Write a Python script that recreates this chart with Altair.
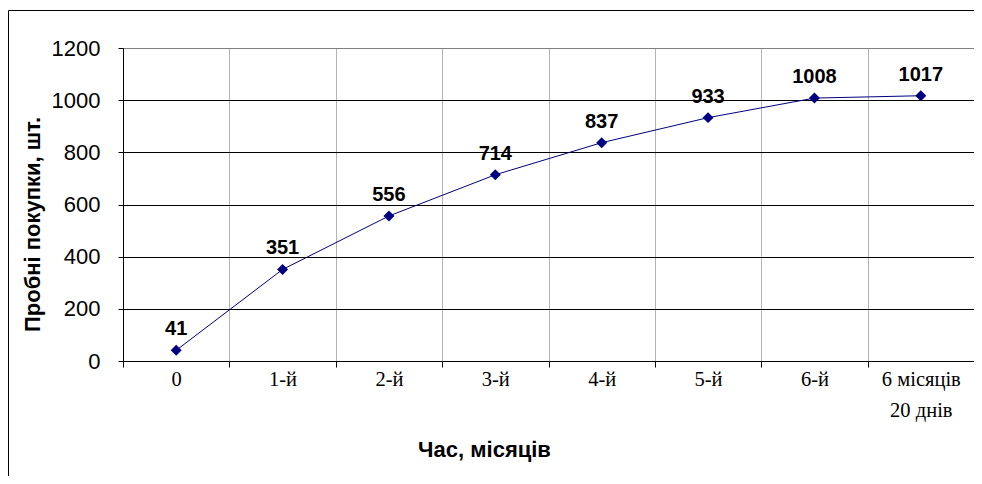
import altair as alt
import pandas as pd

categories = ["0", "1-й", "2-й", "3-й", "4-й", "5-й", "6-й", "6 місяців\n20 днів"]
values = [41, 351, 556, 714, 837, 933, 1008, 1017]
y_ticks = [0, 200, 400, 600, 800, 1000, 1200]

df = pd.DataFrame({"cat": categories, "val": values})

W, H = 851, 313
PL, PT = 115, 40

x_enc = alt.X(
    "cat:N",
    sort=categories,
    scale=alt.Scale(paddingInner=0, paddingOuter=0),
    axis=alt.Axis(
        title="Час, місяців",
        labelAngle=0,
        tickBand="extent",
        grid=True,
        gridColor="#b4b4b4",
        gridWidth=1,
        domainColor="black",
        tickColor="black",
        tickSize=6,
        labelPadding=2,
        labelFont="Liberation Serif",
        labelFontSize=20.5,
        labelColor="black",
        labelBaseline="top",
        labelLineHeight=31,
        labelExpr="split(datum.label, '\\n')",
        titleFont="Liberation Sans",
        titleFontSize=22,
        titleFontWeight="bold",
        titleColor="black",
        titleX=361,
        titleY=88,
        titleAlign="center",
        titleBaseline="middle",
    ),
)

y_enc = alt.Y(
    "val:Q",
    scale=alt.Scale(domain=[0, 1200], nice=False),
    axis=alt.Axis(
        title="Пробні покупки, шт.",
        values=y_ticks,
        format="d",
        grid=True,
        gridColor={"condition": {"test": "datum.value == 1200", "value": "#808080"}, "value": "black"},
        domainColor="black",
        tickColor="black",
        tickSize=5,
        labelPadding=18,
        labelFont="Liberation Sans",
        labelFontSize=22,
        labelColor="black",
        titleFont="Liberation Sans",
        titleFontSize=22,
        titleFontWeight="bold",
        titleColor="black",
        titleAngle=270,
        titleX=-91,
        titleY=176,
        titleAlign="center",
        titleBaseline="middle",
    ),
)

base = alt.Chart(df)

line = base.mark_line(color="#000080", strokeWidth=1).encode(x=x_enc, y=y_enc)
points = base.mark_point(shape="diamond", filled=True, color="#000080", size=120, opacity=1).encode(
    x=alt.X("cat:N", sort=categories), y="val:Q"
)
labels = base.mark_text(
    font="Liberation Sans", fontSize=20, fontWeight="bold", color="black", baseline="alphabetic", dy=-15
).encode(x=alt.X("cat:N", sort=categories), y="val:Q", text="val:Q")

border = alt.Chart(pd.DataFrame({"a": [0]})).mark_rect(
    fill=None, stroke="black", strokeWidth=1, clip=False
).encode(
    x=alt.value(-114.5), x2=alt.value(W + 60), y=alt.value(-37.5), y2=alt.value(H + 300)
)

chart = alt.layer(border, line, points, labels).properties(
    width=W,
    height=H,
    autosize=alt.AutoSizeParams(type="none"),
    padding={"left": PL, "top": PT, "right": 0, "bottom": 115},
    background="white",
).configure_view(stroke="#808080", strokeWidth=1)

chart.save("out.html", embed_options={"renderer": "svg", "actions": False})
